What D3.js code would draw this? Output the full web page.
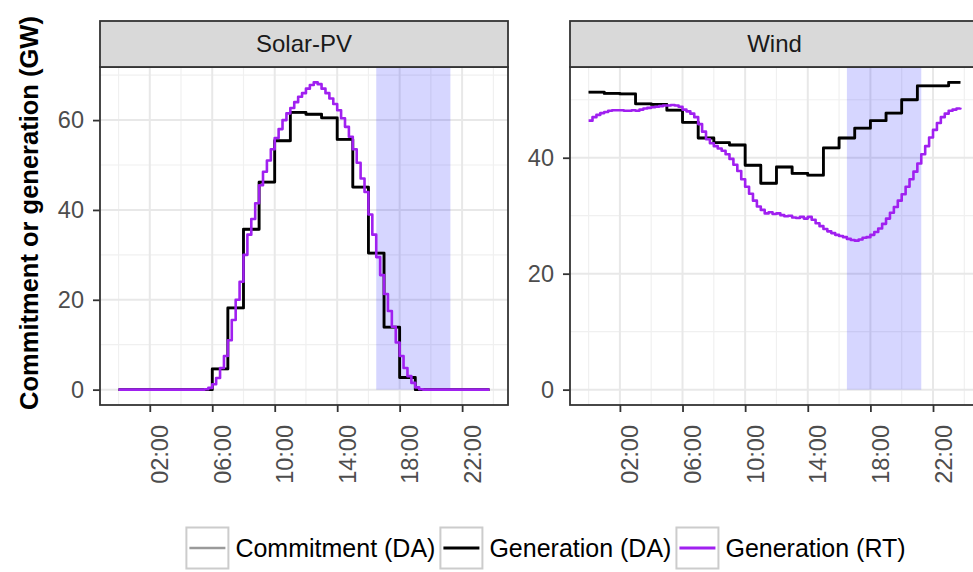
<!DOCTYPE html>
<html>
<head>
<meta charset="utf-8">
<script src="https://cdn.jsdelivr.net/npm/d3@7"></script>
<style>
  body { margin: 0; background: #ffffff; }
  text { font-family: "Liberation Sans", Arial, Helvetica, sans-serif; }
</style>
</head>
<body>
<svg id="chart" width="973" height="572"></svg>
<script>
// ---- data -------------------------------------------------------------
const technologies = ["Solar-PV", "Wind"];
const seriesNames = ["Commitment (DA)", "Generation (DA)", "Generation (RT)"];

// x axis: hour of day
const tickHours = [2, 6, 10, 14, 18, 22];
const tickLabels = ["02:00", "06:00", "10:00", "14:00", "18:00", "22:00"];
const minorHours = [0, 4, 8, 12, 16, 20, 24];
const lastInterval = 23.75;            // start of the final 15-minute interval

// y axis ticks per facet
const solarYTicks = [0, 20, 40, 60];
const solarYMinor = [10, 30, 50, 70];
const windYTicks = [0, 20, 40];
const windYMinor = [10, 30, 50];

// highlighted evening window (hours)
const peakWindow = [16.5, 21.25];

// hourly day-ahead values, GW (hours 00..23)
const solarCommitDA = [0, 0, 0, 0, 0, 0, 4.6, 18.2, 35.7, 46.2, 55.4, 61.7,
                       61.3, 60.5, 55.7, 45.1, 30.4, 13.9, 2.7, 0, 0, 0, 0, 0];
const solarGenDA    = [0, 0, 0, 0, 0, 0, 4.6, 18.2, 35.7, 46.2, 55.4, 61.7,
                       61.3, 60.5, 55.7, 45.1, 30.4, 13.9, 2.7, 0, 0, 0, 0, 0];
const windCommitDA  = [51.3, 51.1, 51.0, 49.3, 49.2, 48.2, 46.1, 43.4, 42.6, 42.2, 38.7, 35.6,
                       38.4, 37.3, 37.0, 41.7, 43.4, 45.1, 46.4, 47.7, 50.0, 52.4, 52.4, 53.0];
const windGenDA     = [51.3, 51.1, 51.0, 49.3, 49.2, 48.2, 46.1, 43.4, 42.6, 42.2, 38.7, 35.6,
                       38.4, 37.3, 37.0, 41.7, 43.4, 45.1, 46.4, 47.7, 50.0, 52.4, 52.4, 53.0];

// real-time values, GW, 15-minute intervals (4 per hour, 00:00..23:45)
const solarGenRT = [
  0, 0, 0, 0,   0, 0, 0, 0,   0, 0, 0, 0,   0, 0, 0, 0,   0, 0, 0, 0,
  0, 0, 0.1, 0.4,
  1.2, 2.6, 4.8, 7.5,
  11.0, 15.5, 20.0, 24.0,
  30.0, 34.5, 38.0, 41.5,
  45.5, 48.5, 51.0, 53.5,
  56.0, 58.0, 60.0, 61.5,
  62.7, 64.0, 65.2, 66.0,
  67.0, 67.8, 68.4, 68.0,
  67.0, 66.0, 64.8, 63.6,
  62.2, 60.4, 58.5, 56.3,
  53.5, 50.5, 47.0, 44.0,
  39.0, 34.5, 29.5, 25.5,
  21.3, 17.5, 14.0, 10.5,
  7.5, 4.8, 3.0, 1.5,
  0.5, 0.1, 0, 0,
  0, 0, 0, 0,   0, 0, 0, 0,   0, 0, 0, 0,   0, 0, 0, 0
];
const windGenRT = [
  46.4, 47.0, 47.4, 47.7,
  47.9, 48.1, 48.2, 48.2,
  48.2, 48.1, 48.1, 48.2,
  48.1, 48.3, 48.5, 48.6,
  48.7, 48.8, 48.9, 49.0,
  49.0, 49.1, 49.0, 48.8,
  48.3, 48.0, 47.6, 47.0,
  45.8, 44.5, 43.2, 42.5,
  42.0, 41.6, 41.2, 40.6,
  39.8, 38.8, 37.7, 36.3,
  35.0, 33.8, 32.6, 31.6,
  31.0, 30.4, 30.6, 30.3,
  30.4, 30.1, 29.9, 30.0,
  29.7, 29.6, 29.8, 29.5,
  29.8, 29.3, 28.7, 28.2,
  27.7, 27.3, 27.0, 26.7,
  26.5, 26.3, 26.0, 25.8,
  25.7, 25.9, 26.2, 26.3,
  26.7, 27.2, 27.8, 28.6,
  29.5, 30.5, 31.5, 32.6,
  33.7, 35.0, 36.3, 37.6,
  39.0, 40.6, 42.0, 43.5,
  44.8, 46.0, 47.0, 47.6,
  48.1, 48.3, 48.5, 48.6
];

// ---- styling ----------------------------------------------------------
const colors = { commit: "#9a9a9a", genDA: "#000000", genRT: "#A020F0" };
const svg = d3.select("#chart");
const W = 973, H = 572;
const tickFont = 23.5;

const plotTop = 67, plotBottom = 405, stripTop = 21;
const facets = [
  { name: technologies[0], left: 100, right: 508,
    commit: solarCommitDA, da: solarGenDA, rt: solarGenRT,
    yTicks: solarYTicks, yMinor: solarYMinor },
  { name: technologies[1], left: 570, right: 979,
    commit: windCommitDA, da: windGenDA, rt: windGenRT,
    yTicks: windYTicks, yMinor: windYMinor }
];

// hourly step series -> points, held until the last interval
function hourlyPoints(vals) {
  const pts = vals.map((v, h) => [h, v]);
  pts.push([lastInterval, vals[vals.length - 1]]);
  return pts;
}
function quarterPoints(vals) {
  return vals.map((v, i) => [i / 4, v]);
}

function expand(lo, hi) {
  const pad = (hi - lo) * 0.05;
  return [lo - pad, hi + pad];
}

facets.forEach(f => {
  const x = d3.scaleLinear().domain(expand(0, lastInterval)).range([f.left, f.right]);
  const yMax = d3.max([d3.max(f.commit), d3.max(f.da), d3.max(f.rt)]);
  const y = d3.scaleLinear().domain(expand(0, yMax)).range([plotBottom, plotTop]);

  const g = svg.append("g");
  const clipId = "clip-" + f.name.replace(/[^A-Za-z]/g, "");
  svg.append("clipPath").attr("id", clipId)
    .append("rect").attr("x", f.left).attr("y", plotTop)
    .attr("width", f.right - f.left).attr("height", plotBottom - plotTop);

  const panel = g.append("g").attr("clip-path", `url(#${clipId})`);
  panel.append("rect").attr("x", f.left).attr("y", plotTop)
    .attr("width", f.right - f.left).attr("height", plotBottom - plotTop)
    .attr("fill", "#ffffff");

  // minor grid
  panel.selectAll(".vminor").data(minorHours).join("line")
    .attr("x1", d => x(d)).attr("x2", d => x(d))
    .attr("y1", plotTop).attr("y2", plotBottom)
    .attr("stroke", "#F0F0F0").attr("stroke-width", 1.2);
  panel.selectAll(".hminor").data(f.yMinor).join("line")
    .attr("x1", f.left).attr("x2", f.right)
    .attr("y1", d => y(d)).attr("y2", d => y(d))
    .attr("stroke", "#F0F0F0").attr("stroke-width", 1.2);
  // major grid
  panel.selectAll(".vmajor").data(tickHours).join("line")
    .attr("x1", d => x(d)).attr("x2", d => x(d))
    .attr("y1", plotTop).attr("y2", plotBottom)
    .attr("stroke", "#E8E8E8").attr("stroke-width", 2);
  panel.selectAll(".hmajor").data(f.yTicks).join("line")
    .attr("x1", f.left).attr("x2", f.right)
    .attr("y1", d => y(d)).attr("y2", d => y(d))
    .attr("stroke", "#E8E8E8").attr("stroke-width", 2);

  // evening window
  panel.append("rect")
    .attr("x", x(peakWindow[0])).attr("width", x(peakWindow[1]) - x(peakWindow[0]))
    .attr("y", plotTop).attr("height", y(0) - plotTop)
    .attr("fill", "#0000FF").attr("fill-opacity", 0.16);

  const line = d3.line().x(d => x(d[0])).y(d => y(d[1])).curve(d3.curveStepAfter);

  panel.append("path").datum(hourlyPoints(f.commit)).attr("d", line)
    .attr("fill", "none").attr("stroke", colors.commit).attr("stroke-width", 2.5);
  panel.append("path").datum(hourlyPoints(f.da)).attr("d", line)
    .attr("fill", "none").attr("stroke", colors.genDA).attr("stroke-width", 2.8)
    .attr("stroke-linejoin", "round");
  panel.append("path").datum(quarterPoints(f.rt)).attr("d", line)
    .attr("fill", "none").attr("stroke", colors.genRT).attr("stroke-width", 2.6)
    .attr("stroke-linejoin", "round");

  // panel border
  g.append("rect").attr("x", f.left).attr("y", plotTop)
    .attr("width", f.right - f.left).attr("height", plotBottom - plotTop)
    .attr("fill", "none").attr("stroke", "#333333").attr("stroke-width", 1.8);

  // strip
  g.append("rect").attr("x", f.left).attr("y", stripTop)
    .attr("width", f.right - f.left).attr("height", plotTop - stripTop)
    .attr("fill", "#D9D9D9").attr("stroke", "#333333").attr("stroke-width", 1.8);
  g.append("text")
    .attr("x", (f.left + f.right) / 2)
    .attr("y", (stripTop + plotTop) / 2).attr("dy", "0.35em")
    .attr("text-anchor", "middle").attr("font-size", 24).attr("fill", "#1A1A1A")
    .text(f.name);

  // y axis
  const yAxis = g.append("g").attr("transform", `translate(${f.left},0)`)
    .call(d3.axisLeft(y).tickValues(f.yTicks).tickSize(7).tickPadding(9));
  yAxis.select(".domain").remove();
  yAxis.selectAll(".tick line").attr("stroke", "#333333").attr("stroke-width", 1.8);
  yAxis.selectAll(".tick text").attr("font-size", tickFont).attr("fill", "#4D4D4D")
    .attr("font-family", "Liberation Sans, Arial, sans-serif");

  // x axis
  const xAxis = g.append("g").attr("transform", `translate(0,${plotBottom})`)
    .call(d3.axisBottom(x).tickValues(tickHours)
      .tickFormat((d, i) => tickLabels[i]).tickSize(7).tickPadding(0));
  xAxis.select(".domain").remove();
  xAxis.selectAll(".tick line").attr("stroke", "#333333").attr("stroke-width", 1.8);
  xAxis.selectAll(".tick text")
    .attr("font-size", tickFont).attr("fill", "#4D4D4D")
    .attr("font-family", "Liberation Sans, Arial, sans-serif")
    .attr("text-anchor", "end").attr("dy", null)
    .attr("transform", "translate(18,20) rotate(-90)")
    .attr("x", 0).attr("y", 0);
});

// y axis title
svg.append("text")
  .attr("transform", `translate(38,${(stripTop + plotBottom) / 2}) rotate(-90)`)
  .attr("text-anchor", "middle").attr("font-size", 25.5).attr("font-weight", "bold")
  .attr("fill", "#000000")
  .text("Commitment or generation (GW)");

// legend
const legendKeys = [colors.commit, colors.genDA, colors.genRT];
const legend = svg.append("g");
const keyW = 42, keyH = 41, legendY = 548, keyGap = 7, itemGap = 5;
let cursor = 0;
seriesNames.forEach((name, i) => {
  const item = legend.append("g");
  item.append("rect").attr("x", 0).attr("y", legendY - keyH / 2)
    .attr("width", keyW).attr("height", keyH)
    .attr("fill", "#ffffff").attr("stroke", "#CCCCCC").attr("stroke-width", 2);
  item.append("line").attr("x1", 3).attr("x2", keyW - 3)
    .attr("y1", legendY).attr("y2", legendY)
    .attr("stroke", legendKeys[i]).attr("stroke-width", i === 0 ? 2.5 : 2.8);
  const t = item.append("text").attr("x", keyW + keyGap).attr("y", legendY).attr("dy", "0.35em")
    .attr("font-size", 25).attr("fill", "#000000").text(name);
  const w = keyW + keyGap + t.node().getComputedTextLength();
  item.attr("transform", `translate(${cursor},0)`);
  cursor += w + itemGap;
});
const totalW = cursor - itemGap;
legend.attr("transform", `translate(${546 - totalW / 2},0)`);
</script>
</body>
</html>
